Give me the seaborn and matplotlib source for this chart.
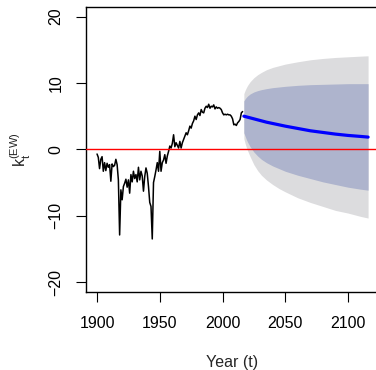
import numpy as np
import pandas as pd
import seaborn as sns
import matplotlib
matplotlib.use("Agg")
import matplotlib.pyplot as plt

# ---- data ----
hist_years = list(range(1900, 2017))
hist_k = [
    -0.7, -1.2, -2.9, -1.5, -1.1, -3.3, -2.0, -3.2, -2.1, -2.7,   # 1900-1909
    -2.3, -4.8, -2.2, -2.6, -2.4, -1.5, -2.3, -4.6, -12.9, -6.1,  # 1910-1919
    -7.6, -5.6, -5.1, -4.5, -5.7, -4.6, -6.6, -3.8, -4.9, -3.3,   # 1920-1929
    -4.4, -3.8, -4.9, -2.7, -4.6, -3.3, -4.0, -6.3, -4.1, -2.8,   # 1930-1939
    -3.6, -5.6, -8.0, -8.6, -13.5, -5.0, -4.1, -3.1, -2.0, -3.3,  # 1940-1949
    -0.3, -3.3, -2.0, -1.6, -0.8, -2.1, -1.0, -0.3, 0.5, 0.2,     # 1950-1959
    0.9, 2.2, 0.4, 1.0, 0.6, 0.2, 1.2, 0.2, 1.0, 1.5,             # 1960-1969
    2.0, 2.5, 2.2, 2.8, 3.5, 3.2, 3.9, 4.3, 5.0, 4.5,             # 1970-1979
    5.2, 5.5, 5.1, 6.0, 5.6, 5.5, 6.2, 6.5, 6.3, 6.8,             # 1980-1989
    6.2, 6.5, 6.4, 6.7, 6.1, 6.4, 6.2, 6.3, 6.2, 6.0,             # 1990-1999
    5.5, 5.2, 5.3, 5.2, 5.3, 5.2, 5.2, 5.0, 4.6, 3.7,             # 2000-2009
    3.8, 3.6, 4.0, 4.2, 4.5, 5.5, 5.7,                            # 2010-2016
]

fc_years = [2017, 2018, 2019, 2020, 2022, 2025, 2028, 2031, 2035, 2040,
            2045, 2050, 2060, 2070, 2080, 2090, 2100, 2110, 2116]
fc_mean = [5.0, 4.95, 4.9, 4.85, 4.75, 4.6, 4.45, 4.3, 4.1, 3.9,
           3.7, 3.5, 3.15, 2.8, 2.55, 2.3, 2.1, 1.95, 1.85]
fc_outer_hi = [8.4, 8.9, 9.3, 9.65, 10.2, 10.8, 11.25, 11.6, 12.0, 12.35,
               12.6, 12.85, 13.2, 13.5, 13.7, 13.85, 13.95, 14.05, 14.1]
fc_outer_lo = [1.6, 0.9, 0.3, -0.2, -1.1, -2.3, -3.2, -3.9, -4.6, -5.3,
               -5.9, -6.4, -7.3, -8.0, -8.6, -9.2, -9.6, -10.1, -10.35]
fc_inner_hi = [7.3, 7.6, 7.85, 8.05, 8.35, 8.65, 8.85, 9.0, 9.15, 9.3,
               9.4, 9.5, 9.65, 9.75, 9.8, 9.85, 9.9, 9.9, 9.9]
fc_inner_lo = [2.5, 2.0, 1.5, 1.1, 0.4, -0.4, -1.0, -1.5, -2.0, -2.5,
               -2.9, -3.3, -3.9, -4.4, -4.9, -5.3, -5.7, -6.0, -6.15]

x_ticks = [1900, 1950, 2000, 2050, 2100]
y_ticks = [-20, -10, 0, 10, 20]

# ---- style ----
sns.set_style("ticks")
plt.rcParams["font.family"] = ["Liberation Sans", "DejaVu Sans"]
plt.rcParams["mathtext.fontset"] = "custom"
plt.rcParams["mathtext.rm"] = "Liberation Sans"
plt.rcParams["mathtext.it"] = "Liberation Sans"
plt.rcParams["mathtext.bf"] = "Liberation Sans:bold"

fig = plt.figure(figsize=(3.76, 3.70), dpi=100)
ax = fig.add_axes([86 / 376, (370 - 291.7) / 370, (379 - 86) / 376, (291.7 - 6.7) / 370])

hist_df = pd.DataFrame({"year": hist_years, "k": hist_k})
fc_df = pd.DataFrame({"year": fc_years, "mean": fc_mean,
                      "ohi": fc_outer_hi, "olo": fc_outer_lo,
                      "ihi": fc_inner_hi, "ilo": fc_inner_lo})

ax.fill_between(fc_df["year"], fc_df["olo"], fc_df["ohi"], color="#DCDCDE", lw=0, zorder=1)
ax.fill_between(fc_df["year"], fc_df["ilo"], fc_df["ihi"], color="#AEB4CD", lw=0, zorder=2)

sns.lineplot(data=hist_df, x="year", y="k", color="black", lw=1.1, ax=ax, zorder=3)
ax.axhline(0, color="#FF0000", lw=1.0, zorder=4)
sns.lineplot(data=fc_df, x="year", y="mean", color="#0000FF", lw=2.3, ax=ax, zorder=5)

ax.set_xlim(1891.2, 2124.7)
ax.set_ylim(-21.45, 21.5)
ax.set_xticks(x_ticks)
ax.set_yticks(y_ticks)
ax.set_yticklabels(["\u221220", "\u221210", "0", "10", "20"])

for s in ax.spines.values():
    s.set_linewidth(1.0)
    s.set_color("black")

ax.tick_params(axis="both", direction="out", length=7.2, width=0.8, labelsize=11.5,
               colors="black")
ax.tick_params(axis="x", pad=10.5)
ax.tick_params(axis="y", pad=9.0, labelrotation=90)
for lab in ax.get_yticklabels():
    lab.set_verticalalignment("center")

ax.set_xlabel("Year (t)", fontsize=11.5, labelpad=17)
ax.set_ylabel(r"$\mathregular{k_t^{(EW)}}$", fontsize=11.5, labelpad=11)

fig.savefig("out.png", dpi=100)
